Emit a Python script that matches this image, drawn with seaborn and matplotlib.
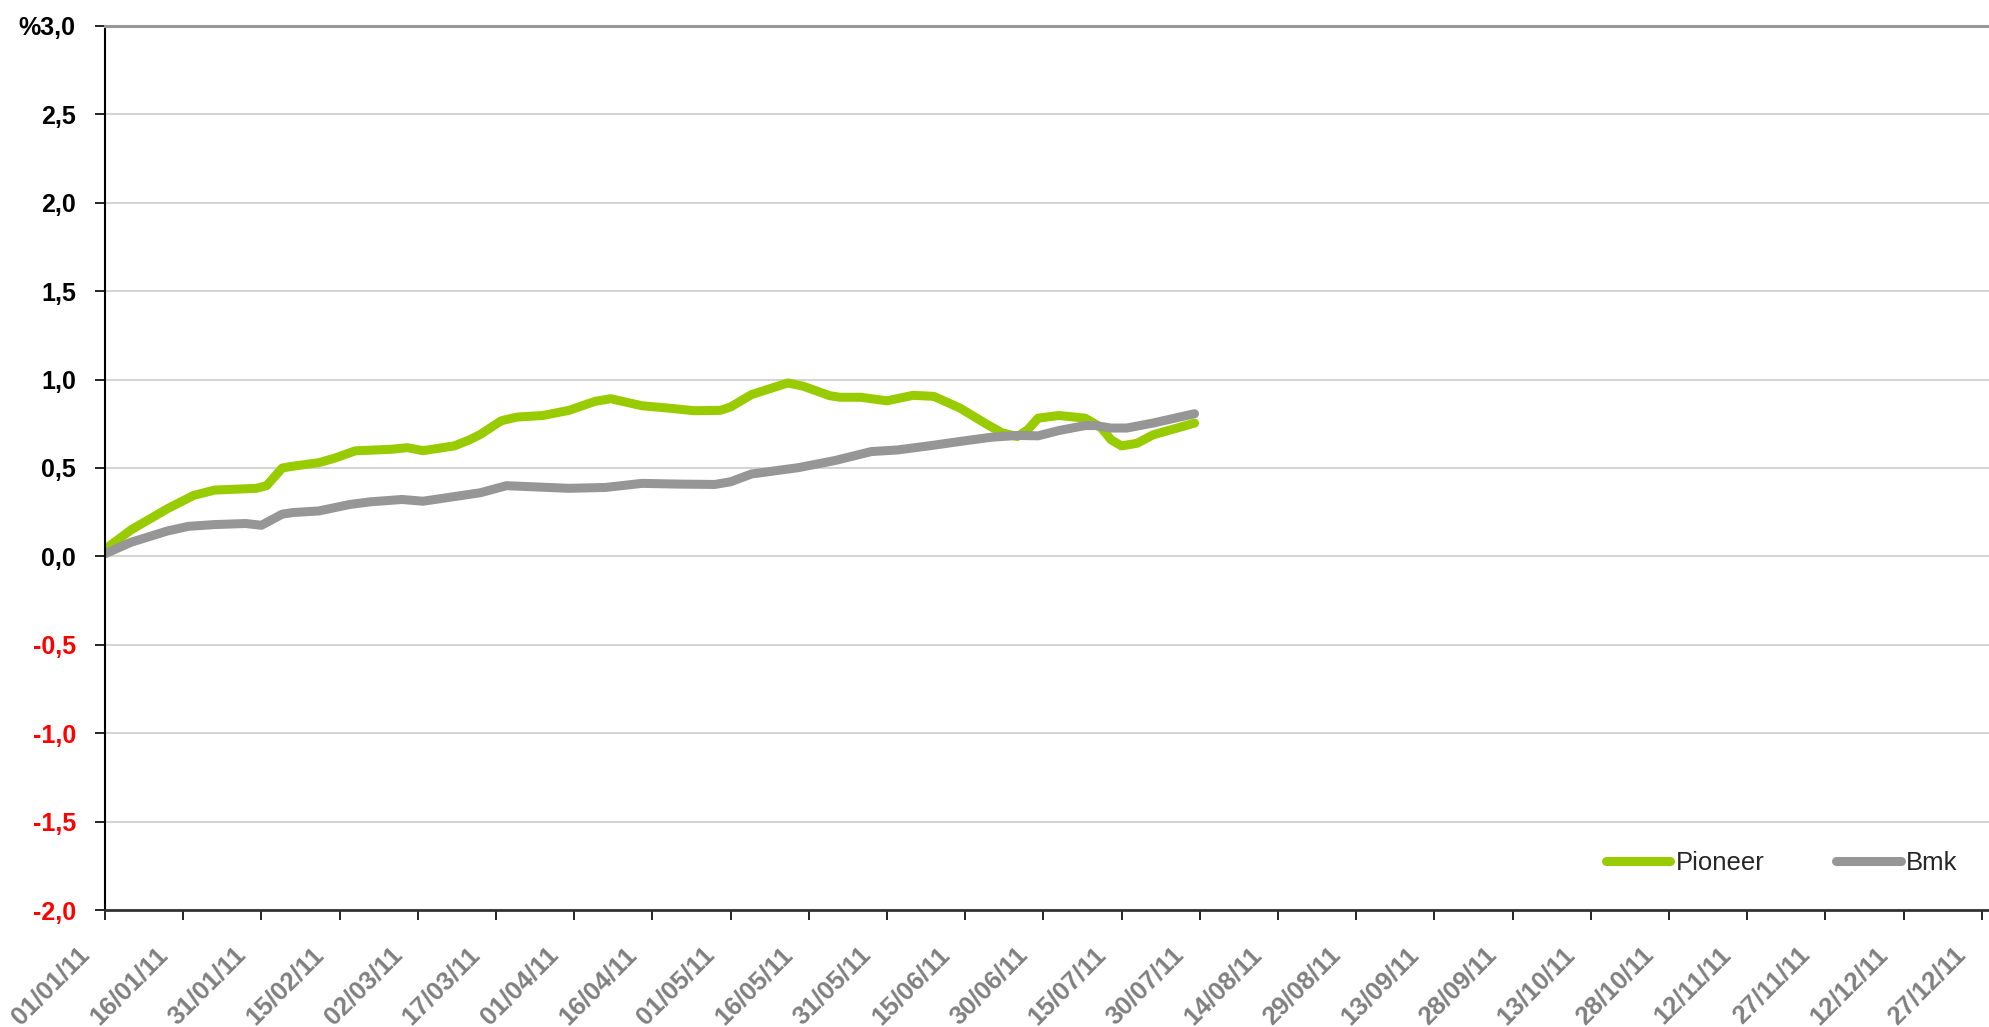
import pandas as pd
import matplotlib
matplotlib.use("Agg")
import matplotlib.pyplot as plt
import matplotlib.transforms as mtransforms
import seaborn as sns

# -----------------------------
# Chart data
# -----------------------------
pioneer_dates = [
    "2011-01-01", "2011-01-06", "2011-01-13", "2011-01-18", "2011-01-22",
    "2011-01-30", "2011-02-01", "2011-02-04", "2011-02-06", "2011-02-11",
    "2011-02-14", "2011-02-18", "2011-02-25", "2011-02-28", "2011-03-03",
    "2011-03-09", "2011-03-12", "2011-03-14", "2011-03-18", "2011-03-21",
    "2011-03-26", "2011-03-31", "2011-04-05", "2011-04-08", "2011-04-14",
    "2011-04-19", "2011-04-24", "2011-04-29", "2011-05-01", "2011-05-05",
    "2011-05-09", "2011-05-12", "2011-05-15", "2011-05-20", "2011-05-22",
    "2011-05-26", "2011-05-31", "2011-06-05", "2011-06-09", "2011-06-14",
    "2011-06-19", "2011-06-22", "2011-06-25", "2011-06-27", "2011-06-29",
    "2011-07-03", "2011-07-08", "2011-07-11", "2011-07-13", "2011-07-15",
    "2011-07-18", "2011-07-21", "2011-07-29",
]
pioneer_values = [
    0.04, 0.15, 0.27, 0.345, 0.375,
    0.385, 0.40, 0.50, 0.51, 0.53,
    0.555, 0.597, 0.606, 0.615, 0.598,
    0.625, 0.66, 0.69, 0.767, 0.788,
    0.797, 0.826, 0.877, 0.892, 0.852,
    0.839, 0.824, 0.826, 0.845, 0.915,
    0.953, 0.981, 0.962, 0.909, 0.90,
    0.90, 0.88, 0.911, 0.905, 0.839,
    0.75, 0.70, 0.678, 0.716, 0.782,
    0.797, 0.782, 0.731, 0.659, 0.625,
    0.64, 0.687, 0.754,
]

bmk_dates = [
    "2011-01-01", "2011-01-06", "2011-01-13", "2011-01-17", "2011-01-22",
    "2011-01-28", "2011-01-31", "2011-02-04", "2011-02-06", "2011-02-11",
    "2011-02-17", "2011-02-21", "2011-02-27", "2011-03-03", "2011-03-11",
    "2011-03-14", "2011-03-19", "2011-03-23", "2011-03-31", "2011-04-07",
    "2011-04-14", "2011-04-21", "2011-04-28", "2011-05-01", "2011-05-05",
    "2011-05-14", "2011-05-21", "2011-05-28", "2011-06-02", "2011-06-08",
    "2011-06-14", "2011-06-20", "2011-06-25", "2011-06-29", "2011-07-03",
    "2011-07-08", "2011-07-10", "2011-07-13", "2011-07-16", "2011-07-21",
    "2011-07-29",
]
bmk_values = [
    0.015, 0.08, 0.144, 0.17, 0.18,
    0.186, 0.176, 0.239, 0.248, 0.257,
    0.294, 0.309, 0.322, 0.312, 0.347,
    0.36, 0.40, 0.395, 0.385, 0.39,
    0.413, 0.409, 0.407, 0.422, 0.466,
    0.502, 0.542, 0.593, 0.602, 0.625,
    0.65, 0.674, 0.684, 0.682, 0.712,
    0.74, 0.74, 0.726, 0.726, 0.754,
    0.807,
]

series_names = ["Pioneer", "Bmk"]
series_colors = ["#99CC00", "#969696"]

y_ticks = [-2.0, -1.5, -1.0, -0.5, 0.0, 0.5, 1.0, 1.5, 2.0, 2.5, 3.0]
y_labels = ["-2,0", "-1,5", "-1,0", "-0,5", "0,0", "0,5",
            "1,0", "1,5", "2,0", "2,5", "%3,0"]

x_tick_labels = [
    "01/01/11", "16/01/11", "31/01/11", "15/02/11", "02/03/11", "17/03/11",
    "01/04/11", "16/04/11", "01/05/11", "16/05/11", "31/05/11", "15/06/11",
    "30/06/11", "15/07/11", "30/07/11", "14/08/11", "29/08/11", "13/09/11",
    "28/09/11", "13/10/11", "28/10/11", "12/11/11", "27/11/11", "12/12/11",
    "27/12/11",
]


def main():
    # -----------------------------
    # Build long table for seaborn
    # -----------------------------
    df = pd.concat([
        pd.DataFrame({"date": pd.to_datetime(pioneer_dates),
                      "value": pioneer_values, "serie": series_names[0]}),
        pd.DataFrame({"date": pd.to_datetime(bmk_dates),
                      "value": bmk_values, "serie": series_names[1]}),
    ], ignore_index=True)

    sns.set_theme(style="white")
    plt.rcParams["font.family"] = ["Liberation Sans", "DejaVu Sans"]

    W, H = 1990, 1027
    fig = plt.figure(figsize=(W / 100, H / 100), dpi=100)
    ax = fig.add_axes([105 / W, 1 - 910 / H, (1989 - 105) / W, (910 - 26) / H])

    # -----------------------------
    # Lines
    # -----------------------------
    sns.lineplot(data=df, x="date", y="value", hue="serie",
                 hue_order=series_names,
                 palette=dict(zip(series_names, series_colors)),
                 linewidth=6.5, ax=ax, legend=True)
    for line in ax.get_lines():
        line.set_solid_capstyle("round")
        line.set_solid_joinstyle("round")

    # -----------------------------
    # Axes limits, ticks
    # -----------------------------
    tick_dates = pd.to_datetime(x_tick_labels, format="%d/%m/%y")
    ax.set_xlim(pd.Timestamp("2011-01-01"),
                pd.Timestamp("2011-01-01") + pd.Timedelta(days=361.4))
    ax.set_ylim(-2.0, 3.0)
    ax.set_xlabel("")
    ax.set_ylabel("")

    # tick_params first: it resets label transforms
    ax.tick_params(axis="y", direction="out", length=7, width=1.2,
                   color="black", pad=14, left=True)
    ax.tick_params(axis="x", direction="out", length=7, width=1.2,
                   color="black", pad=4, bottom=True)

    ax.set_yticks(y_ticks)
    ax.set_yticklabels(y_labels, fontsize=18, fontweight="bold")
    for lab, val in zip(ax.get_yticklabels(), y_ticks):
        lab.set_color("#FF0000" if val < 0 else "black")

    ax.set_xticks(tick_dates)
    ax.set_xticklabels(x_tick_labels, rotation=45, ha="right", va="top",
                       rotation_mode="anchor", fontsize=18.5,
                       fontweight="bold", color="#808080")
    offset = mtransforms.ScaledTranslation(-28 / 100, -17 / 100,
                                           fig.dpi_scale_trans)
    for lab in ax.get_xticklabels():
        lab.set_transform(lab.get_transform() + offset)

    # -----------------------------
    # Grid and frame
    # -----------------------------
    ax.yaxis.grid(True, color="#cccccc", linewidth=1.2)
    ax.xaxis.grid(False)
    ax.set_axisbelow(True)
    ax.spines["right"].set_visible(False)
    ax.spines["top"].set_color("#999999")
    ax.spines["top"].set_linewidth(2.2)
    ax.spines["left"].set_color("black")
    ax.spines["left"].set_linewidth(1.5)
    ax.spines["bottom"].set_color("#333333")
    ax.spines["bottom"].set_linewidth(2.0)

    # -----------------------------
    # Legend
    # -----------------------------
    handles, labels = ax.get_legend_handles_labels()
    ax.legend(handles, labels, ncol=2, frameon=False, loc="center right",
              bbox_to_anchor=(1970 / W, 1 - 863 / H),
              bbox_transform=fig.transFigure, borderpad=0,
              handlelength=2.5, handletextpad=0.2, columnspacing=2.8,
              prop={"size": 18.5})

    fig.savefig("out.png", dpi=100)
    plt.close(fig)


if __name__ == "__main__":
    main()
